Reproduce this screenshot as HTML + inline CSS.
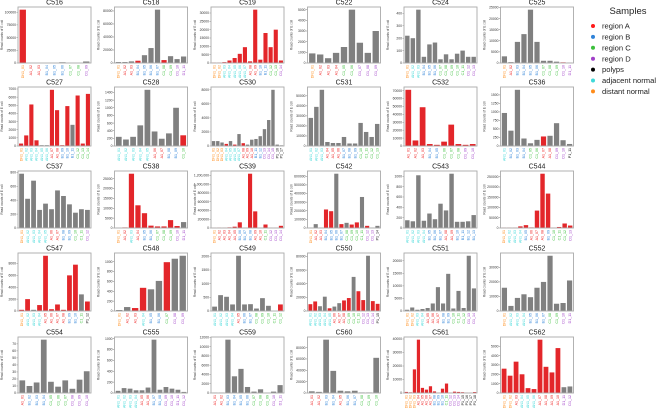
<!DOCTYPE html>
<html><head><meta charset="utf-8"><style>
html,body{margin:0;padding:0;background:#fff;}
svg{display:block;font-family:"Liberation Sans",sans-serif;}
</style></head><body>
<svg id="chart" width="667" height="409" viewBox="0 0 667 409" xmlns="http://www.w3.org/2000/svg">
<g id="panels"></g>
<g id="legend">
<text x="628" y="14" font-size="9.5" text-anchor="middle" fill="#222">Samples</text>
</g>
</svg>
<script>
const titles = ["C516","C518","C519","C522","C524","C525","C527","C528","C530","C531","C532","C536","C537","C538","C539","C542","C543","C544","C547","C548","C549","C550","C551","C552","C554","C555","C559","C560","C561","C562"];
const values = [
[105000,0,0,200,100,1500,0,0,3000],
[1500,1500,2500,3500,12000,23000,82000,4500,10500,6000,10000],
[300,300,500,1500,3000,5500,9500,1000,32000,2000,18000,9500,20000,1500],
[900,800,450,950,1500,5000,1900,950,3000],
[220,200,430,50,150,165,30,70,30,75,100,50,50],
[3000,400,9500,13000,24000,9500,1000,1000,600,300,200],
[300,1300,5100,700,100,100,6900,4400,100,4900,2600,6200,300,6400],
[240,170,240,540,1470,380,190,330,1000,280],
[700,700,500,300,700,200,1700,400,200,900,1000,1400,2400,3700,8000,200,100],
[28000,39000,56000,4000,3000,3000,9000,2500,2500,23000,14000,9000,22000],
[71000,7000,49000,2500,1500,5500,27000,2500,1500,2500],
[970,450,1650,220,80,180,280,300,670,170,60],
[780,420,680,260,350,270,540,460,340,220,270,260],
[100,300,27500,11500,7500,1200,800,800,4000,1000,3000],
[5000,10000,8000,15000,30000,130000,5000,1240000,380000,5000,80000,5000,5000,50000],
[5000,45000,5000,215000,195000,630000,45000,60000,40000,65000,360000,25000,5000,25000],
[150,130,1020,140,280,170,470,340,1050,120,120,130,250],
[2000,2000,2000,8000,14000,3000,85000,265000,168000,2000,5000,22000,12000],
[200,2000,200,1000,9300,300,1100,200,6000,7800,2800,1600],
[20,80,60,470,440,610,990,1060,1120],
[160,580,520,240,2020,240,250,90,470,190,0,240],
[10000,14000,7000,21000,4000,6500,11500,15500,19000,50000,29000,16000,81000,14500,10500],
[500,1400,500,800,1200,3000,9500,3000,14800,1000,8000,1200,22000,9000],
[16000,3500,9000,11500,9500,16000,20000,38000,5000,5500,21000],
[18,10,15,76,16,9,18,6,19,31],
[40,90,80,50,50,100,980,60,110,80,60,20],
[100,100,11500,3600,5200,1300,300,800,50,300,1700],
[3000,2000,94000,39000,4000,3000,4000,1000,1000,62000],
[800,500,17500,39500,3800,2500,5000,1200,300,3200,7000,300,1000,800,600,300,200,700],
[2600,1850,3350,2000,520,420,5700,2800,2200,4800,620,700]
];
// bar colour codes: r = red, g = grey
const barColors = [
"rggggggggr","gggrgggrggg","rrrrrrrrrrrrrr","ggggggggg","ggggggggggggg","gggggggggrg",
"rrrrggrrrrgrrr","gggggggggr","gggrgrgrggggggggg","ggggggggggggg","rrrrrrrrrr","ggggggrgggg",
"gggggggggggg","grrrrrrrrrg","rrrrrrrrrrrrrr","gggrrgrgrrgrgg","ggggggggggggg","rrrrrrrrrrrrr",
"rrgrrrrrrrgr","ggrrggrgg","gggggggggggr","rrggrggrrgrrgrr","gggggggggggggg","ggggggggggg",
"gggggggggg","gggggggggggg","ggggggggggg","gggggggggg","rrrrrrrrrrrrrrrrrr","rrrrrrrrrrgg"
];
// tick label colour codes: o distant, r A, b B, c adjacent, g C, p D, k polyps
const labelCodes = [
"orrbbbggp","orrbbbbggpp","oocccccrrbbggp","orrrggppp","occbbbgggggpp","orbbbbgggpp",
"occcccrrbbbggg","cccccrrbbg","oooccccrrrbbpppkk","cccrrrbbbgggg","rrrbbgggpp","cbbbggrrppkk",
"occccrrbbggp","orcrbbgggpp","orrrrbbbrrgppp","orrbbbbggggppkk","ccccbbbrrbbbb","occcbrrrbgggpp",
"occcrrrrbbgk","orrcbbgpp","ccccrbbgggggp","cccccrrrgggpppkk","ooccrrrbbgggppkk","occcbbbggpp",
"rbbbgggppp","ccccrrbbpppp","rrbbbbgggpp","rrbbrbbggg","ooorrrrbbbgpppkkkkk","oorcccrrrrpp"
];
const tickSteps = [25000,20000,5000,1000,100,5000,1000,200,2000,10000,10000,250,200,5000,200000,100000,200,50000,2000,200,500,20000,5000,10000,10,200,2000,20000,10000,1000];

const COL = {r:"#e3262a", g:"#808080"};
const LCOL = {o:"#ff8c1a", r:"#ee2222", b:"#2f83d8", c:"#3fd8d8", g:"#3cbf3c", p:"#a040c8", k:"#111"};
const LNAME = {o:"DN", r:"A", b:"B", c:"AN", g:"C", p:"D", k:"P"};
const tops = [7,87,171,253,337], heights=[56,59,57,58,56];
const NS="http://www.w3.org/2000/svg";
const root=document.getElementById("panels");
function mk(tag,attrs,parent){const e=document.createElementNS(NS,tag);for(const k in attrs)e.setAttribute(k,attrs[k]);parent.appendChild(e);return e;}

titles.forEach((t,i)=>{
  const row=Math.floor(i/6), col=i%6;
  const x0=18+col*96.5, w=73, y0=tops[row], h=heights[row];
  const vals=values[i], n=vals.length;
  const vmax=Math.max(...vals)*1.05;
  const yS=v=>y0+h-(v/vmax)*h;
  const band=w/(n+0.2);
  const xS=k=>x0+band*(k+0.6);
  const g=mk("g",{},root);
  
  
  const tt=mk("text",{x:x0+w/2,y:y0-2.5,"font-size":7,"text-anchor":"middle",fill:"#222"},g);
  tt.textContent=t;
  
  
  const at=mk("text",{x:0,y:0,"font-size":3.2,"text-anchor":"middle",fill:"#333",transform:`translate(${x0-15},${y0+h/2}) rotate(-90)`},g);
  at.textContent="Read counts of E coli";
  
  
  const step=tickSteps[i];
  for(let v=0;v<=vmax;v+=step){
    const y=yS(v);
    mk("line",{x1:x0-1.5,x2:x0,y1:y,y2:y,stroke:"#555","stroke-width":0.4},g);
    const tl=mk("text",{x:x0-2,y:y+1.2,"font-size":3.4,"text-anchor":"end",fill:"#333"},g);
    tl.textContent=v.toLocaleString("en-US").replace(/,/g, v>=1000000?",":"");
    
    
  }
  vals.forEach((v,k)=>{
    const bw=band*0.8, yy=yS(v);
    const b=mk("rect",{x:xS(k)-bw/2,y:yy,width:bw,height:Math.max(0,y0+h-yy),fill:COL[barColors[i][k]]||COL.g},g);
    
    
    const lc=labelCodes[i][k]||"g";
    const lab=mk("text",{x:0,y:0,"font-size":3.6,"text-anchor":"end",fill:LCOL[lc],transform:`translate(${xS(k)+1.2},${y0+h+2}) rotate(-90)`},g);
    lab.textContent=LNAME[lc]+"1_"+String(k+1).padStart(2,"0");
    
    
  });
  const fr=mk("rect",{x:x0,y:y0,width:w,height:h,fill:"none",stroke:"#aaa","stroke-width":0.9},g);
  
  
});

const legendLabels=["region A","region B","region C","region D","polyps","adjacent normal","distant normal"];
const legendColors=["#ff1a1a","#2f83d8","#3cbf3c","#a040c8","#000","#3fd8d8","#ff8c1a"];
const lg=document.getElementById("legend");
legendLabels.forEach((l,i)=>{
  const y=26+i*10.9;
  const d=mk("circle",{cx:593,cy:y,r:2,fill:legendColors[i]},lg);
  
  
  const t=mk("text",{x:602,y:y+2.6,"font-size":7.6,fill:"#222"},lg);
  t.textContent=l;
  
  
});
</script>
</body></html>
